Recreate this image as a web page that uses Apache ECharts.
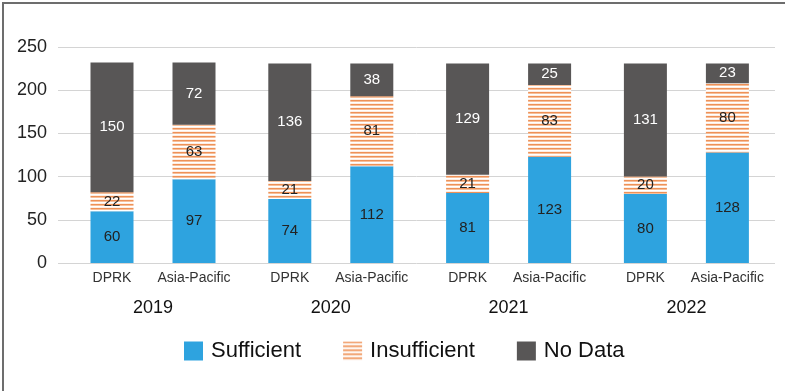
<!DOCTYPE html>
<html>
<head>
<meta charset="utf-8">
<script src="https://cdn.jsdelivr.net/npm/echarts@6/dist/echarts.min.js"></script>
<style>
  html, body { margin: 0; padding: 0; background: #fff; }
  #wrap { position: relative; width: 785px; height: 391px; overflow: hidden; }
  #frame { position: absolute; left: 2px; top: 2px; width: 800px; height: 400px;
           border-left: 2px solid #6d6d6d; border-top: 2px solid #6d6d6d; box-sizing: border-box; }
  #chart { position: absolute; left: 0; top: 0; width: 785px; height: 391px; }
</style>
</head>
<body>
<div id="wrap">
  <div id="chart"></div>
  <div id="frame"></div>
</div>
<script>
// Years and the two regions compared within each year
const years = ['2019', '2020', '2021', '2022'];
const regions = ['DPRK', 'Asia-Pacific'];

// Indicator counts per year
const dprkSufficient   = [60, 74, 81, 80];
const dprkInsufficient = [22, 21, 21, 20];
const dprkNoData       = [150, 136, 129, 131];
const apSufficient     = [97, 112, 123, 128];
const apInsufficient   = [63, 81, 83, 80];
const apNoData         = [72, 38, 25, 23];

const yTicks = [0, 50, 100, 150, 200, 250];

const FONT = '"Liberation Sans", Arial, sans-serif';
const BLUE = '#2ea3df';
const DARK = '#585656';

// Horizontal orange stripes for "Insufficient"
function stripePattern() {
  const c = document.createElement('canvas');
  c.width = 4; c.height = 4;
  const g = c.getContext('2d');
  g.fillStyle = '#ffffff'; g.fillRect(0, 0, 4, 4);
  g.fillStyle = '#ee9157'; g.fillRect(0, 0, 4, 1);
  g.fillStyle = '#f6bf9b'; g.fillRect(0, 1, 4, 1);
  g.fillStyle = '#fdeee4'; g.fillRect(0, 3, 4, 1);
  return { image: c, repeat: 'repeat' };
}
const STRIPES = stripePattern();

const chart = echarts.init(document.getElementById('chart'), null, { renderer: 'canvas' });

const PLOT_TOP = 47, PLOT_BOTTOM = 128;
const YEAR_LEFT = 71, YEAR_STEP = 177.8, YEAR_WIDTH = 164;

const grids = [{ left: 58, right: 10, top: PLOT_TOP, bottom: PLOT_BOTTOM }];
const xAxes = [{ gridIndex: 0, type: 'category', show: false, data: [''] }];
const yAxes = [{
  gridIndex: 0, type: 'value', min: yTicks[0], max: yTicks[yTicks.length - 1],
  interval: yTicks[1] - yTicks[0],
  axisLine: { show: false }, axisTick: { show: false },
  axisLabel: { fontSize: 18, color: '#222', margin: 11, fontFamily: FONT },
  splitLine: { lineStyle: { color: '#d4d4d4', width: 1 } }
}];
const series = [];

const labelDark = { show: true, position: 'inside', fontSize: 15, color: '#222', fontFamily: FONT };
const labelLight = { show: true, position: 'inside', fontSize: 15, color: '#fff', fontFamily: FONT };

years.forEach((yr, i) => {
  const gi = i + 1;
  grids.push({ left: YEAR_LEFT + i * YEAR_STEP, width: YEAR_WIDTH, top: PLOT_TOP, bottom: PLOT_BOTTOM });
  xAxes.push({
    gridIndex: gi, type: 'category', data: regions,
    axisLine: { show: false }, axisTick: { show: false },
    axisLabel: { interval: 0, fontSize: 14, color: '#333', margin: 8, fontFamily: FONT },
    name: yr, nameLocation: 'middle', nameGap: 36,
    nameTextStyle: { fontSize: 18, color: '#111', fontFamily: FONT }
  });
  yAxes.push({
    gridIndex: gi, type: 'value', min: yTicks[0], max: yTicks[yTicks.length - 1],
    show: false, splitLine: { show: false }
  });
  const common = { type: 'bar', stack: 'y' + yr, xAxisIndex: gi, yAxisIndex: gi, barWidth: 43 };
  series.push(
    Object.assign({}, common, {
      name: 'Sufficient', itemStyle: { color: BLUE }, label: labelDark,
      data: [dprkSufficient[i], apSufficient[i]]
    }),
    Object.assign({}, common, {
      name: 'Insufficient', itemStyle: { color: STRIPES }, label: labelDark,
      data: [dprkInsufficient[i], apInsufficient[i]]
    }),
    Object.assign({}, common, {
      name: 'No Data', itemStyle: { color: DARK }, label: labelLight,
      data: [dprkNoData[i], apNoData[i]]
    })
  );
});

chart.setOption({
  animation: false,
  backgroundColor: '#fff',
  textStyle: { fontFamily: FONT },
  legend: {
    data: ['Sufficient', 'Insufficient', 'No Data'],
    left: 179, top: 335, icon: 'rect',
    itemWidth: 19, itemHeight: 19, itemGap: 42,
    textStyle: { fontSize: 22, color: '#111', fontFamily: FONT, padding: [0, 0, 0, 3] }
  },
  grid: grids,
  xAxis: xAxes,
  yAxis: yAxes,
  series: series
});
</script>
</body>
</html>
